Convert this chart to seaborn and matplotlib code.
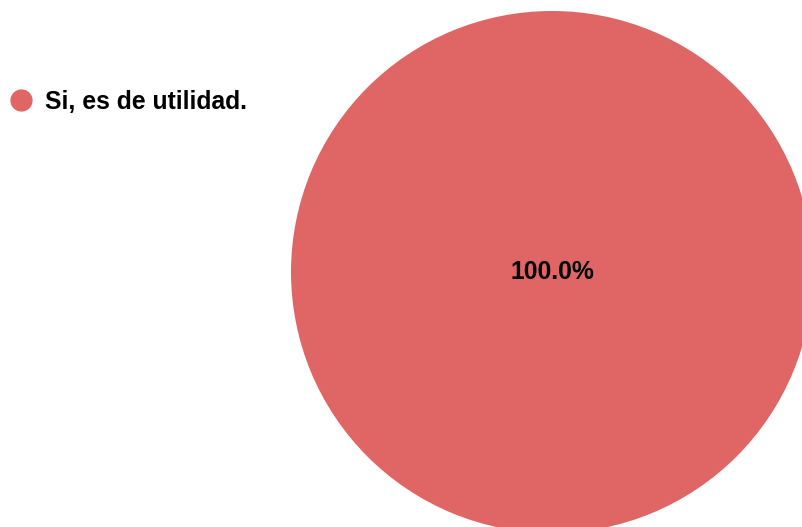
import matplotlib
matplotlib.use("Agg")
import matplotlib.pyplot as plt
import seaborn as sns
from matplotlib.lines import Line2D

labels = ["Si, es de utilidad."]
values = [100.0]
colors = ["#e06666"]

sns.set_theme(style="white")
plt.rcParams['font.family'] = ['Liberation Sans', 'DejaVu Sans']

fig = plt.figure(figsize=(8.02, 5.27), dpi=100)
ax = fig.add_axes([0, 0, 1, 1])

wedges, texts, autotexts = ax.pie(values, colors=colors, center=(552, 272),
                                  radius=261, startangle=90, counterclock=False,
                                  autopct='%1.1f%%', pctdistance=0.0,
                                  wedgeprops={'linewidth': 0})
for t in autotexts:
    t.set_fontsize(17.8)
    t.set_fontweight('bold')
    t.set_color('black')

ax.set_xlim(0, 802)
ax.set_ylim(527, 0)
ax.set_aspect('equal')
ax.axis('off')

handles = [Line2D([], [], marker='o', linestyle='', markersize=15,
                  markerfacecolor=c, markeredgecolor=c) for c in colors]
leg = ax.legend(handles, labels, loc='center left',
                bbox_to_anchor=(10.7 / 802, 1 - 102 / 527),
                frameon=False, handlelength=0.85, handletextpad=0.55,
                borderaxespad=0, borderpad=0,
                prop={'size': 17.8, 'weight': 'bold'})
for t in leg.get_texts():
    t.set_color('black')

plt.savefig('out.png', dpi=100)
